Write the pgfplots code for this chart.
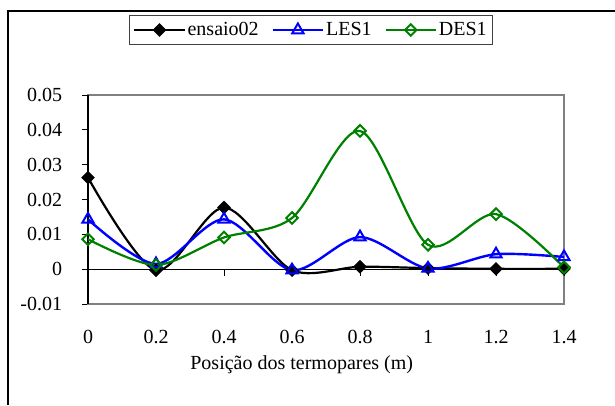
\documentclass[border=0pt]{standalone}
\usepackage{fontspec}
\setmainfont{Liberation Serif}
\usepackage{pgfplots}
\pgfplotsset{compat=1.18}
\definecolor{xlgreen}{RGB}{0,128,0}
\definecolor{xlblue}{RGB}{0,0,255}
\begin{document}
\fontsize{20}{24}\selectfont
\begin{tikzpicture}
\useasboundingbox (0pt,0pt) rectangle (615pt,405pt);
\draw[line width=1.3pt] (8pt,0pt) -- (8pt,394pt) -- (615pt,394pt);
\begin{axis}[
  at={(88pt,101pt)}, anchor=south west,
  scale only axis, width=476pt, height=209pt,
  xmin=0, xmax=1.4, ymin=-0.01, ymax=0.05,
  clip=false,
  scaled y ticks=false,
  axis line style={draw=gray, line width=1.5pt},
  xtick={0,0.2,0.4,0.6,0.8,1,1.2,1.4},
  xticklabels={0,0.2,0.4,0.6,0.8,1,1.2,1.4},
  xtick style={draw=none},
  ytick={-0.01,0,0.01,0.02,0.03,0.04,0.05},
  yticklabels={-0.01,0,0.01,0.02,0.03,0.04,0.05},
  ytick pos=left,
  tick align=outside,
  major tick length=6pt,
  ytick style={black, line width=1pt},
  yticklabel style={anchor=east, xshift=-13pt},
  xticklabel style={anchor=base, yshift=-33pt},
  xlabel={Posição dos termopares (m)},
  xlabel style={at={(axis description cs:0.449,-0.311)}, anchor=base},
  legend columns=3,
  legend style={at={(axis description cs:0.4685,1.311)}, anchor=center,
    draw=black!75, line width=1pt, inner xsep=4pt, inner ysep=4pt,
    nodes={inner sep=2pt},
    /tikz/every even column/.append style={column sep=11pt}},
  legend image code/.code={\draw[mark repeat=2,mark phase=2] plot coordinates {(0pt,0pt) (25pt,0pt) (50pt,0pt)};},
]
\draw[black, line width=1.3pt] (rel axis cs:0,0) -- (rel axis cs:0,1);
\draw[black, line width=1pt] (axis cs:0,0) -- (axis cs:1.4,0);
\pgfplotsinvokeforeach{0,0.2,0.4,0.6,0.8,1,1.2,1.4}{
  \draw[black, line width=1pt] (axis cs:#1,0) -- ++(0pt,-7pt);
}
\addplot[black, line width=2.2pt, smooth, mark=square*, mark size=4.3pt,
  mark options={rotate=45, solid, fill=black, line width=1pt}]
  coordinates {(0,0.0263) (0.2,-0.0003) (0.4,0.0177) (0.6,-0.0003) (0.8,0.0007) (1.0,0.0003) (1.2,0.0001) (1.4,0.0001)};
\addlegendentry{ensaio02}
\addplot[xlblue, line width=2.4pt, smooth, mark=triangle, mark size=6.5pt,
  mark options={solid, fill=white, line width=2pt}]
  coordinates {(0,0.0143) (0.2,0.0015) (0.4,0.0143) (0.6,-0.0003) (0.8,0.0092) (1.0,0.0002) (1.2,0.0043) (1.4,0.0035)};
\addlegendentry{LES1}
\addplot[xlgreen, line width=2.2pt, smooth, mark=square, mark size=4.1pt,
  mark options={rotate=45, solid, fill=white, line width=2pt}]
  coordinates {(0,0.0086) (0.2,0.0012) (0.4,0.0091) (0.6,0.0147) (0.8,0.0397) (1.0,0.0070) (1.2,0.0158) (1.4,0.0005)};
\addlegendentry{DES1}
\end{axis}
\end{tikzpicture}
\end{document}
